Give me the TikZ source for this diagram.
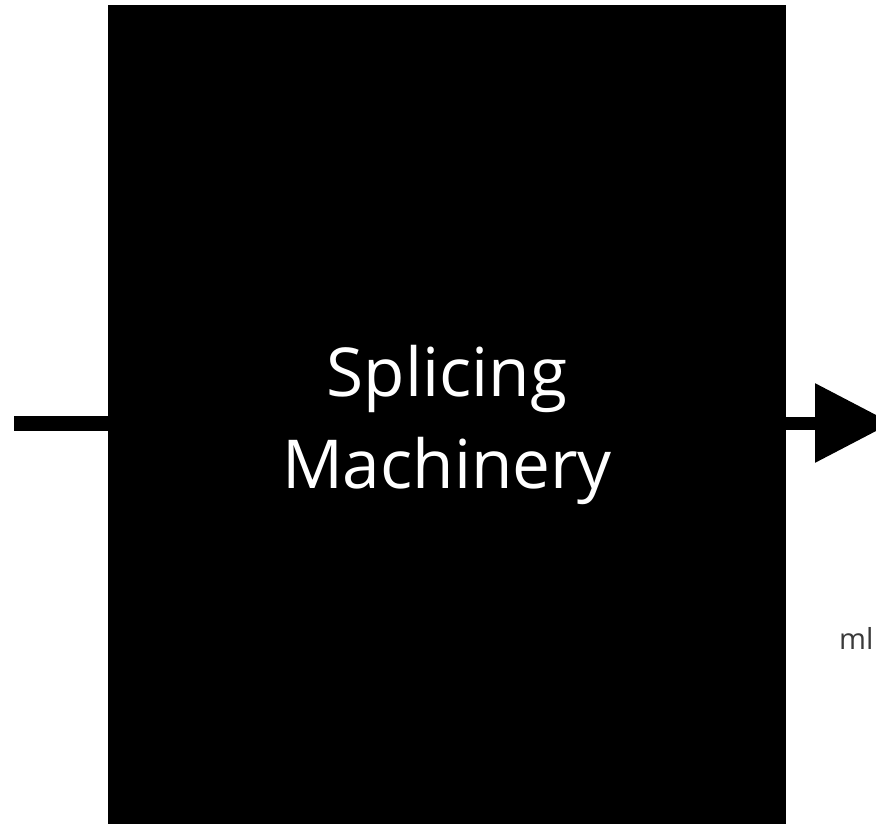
\documentclass[tikz,border=0pt]{standalone}
\usepackage{fontspec}
\setmainfont{Open Sans}
\usetikzlibrary{arrows.meta}
\definecolor{mlgray}{HTML}{3A3A3A}
\tikzset{
  machine/.style={fill=black, draw=none, inner sep=0pt, minimum width=678pt, minimum height=839pt,
    text=white, align=center, font=\fontsize{67.5}{92}\selectfont},
  feed/.style={line width=15pt, black},
  outflow/.style={line width=13pt, black, -{Triangle[length=77pt,width=76pt]}},
  cutlabel/.style={text=mlgray, inner sep=0pt, font=\fontsize{29}{32}\selectfont}
}
\begin{document}
\begin{tikzpicture}[x=1pt,y=-1pt]
\useasboundingbox (0,0) rectangle (876,824);
\clip (0,0) rectangle (876,824);
\fill[white] (0,0) rectangle (876,824);
\node[machine] (box) at (447,425) {Splicing\\Machinery};
\coordinate (in) at (14,423);
\coordinate (out) at (892,423);
\draw[feed] (in) -- (in -| box.west);
\draw[outflow] (box.east |- out) -- (out);
\node[cutlabel, anchor=base west] (ml) at (839,649) {ml};
\end{tikzpicture}
\end{document}
